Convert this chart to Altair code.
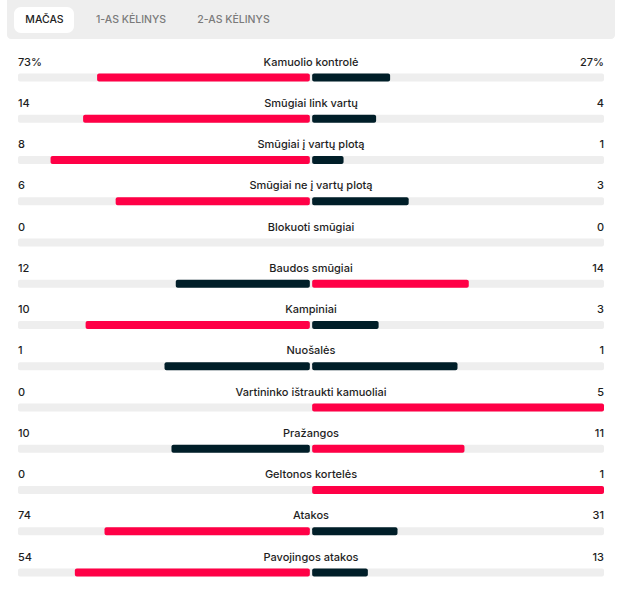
import altair as alt
import pandas as pd

labels = ["Kamuolio kontrolė", "Smūgiai link vartų", "Smūgiai į vartų plotą",
          "Smūgiai ne į vartų plotą", "Blokuoti smūgiai", "Baudos smūgiai",
          "Kampiniai", "Nuošalės", "Vartininko ištraukti kamuoliai",
          "Pražangos", "Geltonos kortelės", "Atakos", "Pavojingos atakos"]
home = [73, 14, 8, 6, 0, 12, 10, 1, 0, 10, 0, 74, 54]
away = [27, 4, 1, 3, 0, 14, 3, 1, 5, 11, 1, 31, 13]
is_pct = [True] + [False] * 12
tabs = ["MAČAS", "1-AS KĖLINYS", "2-AS KĖLINYS"]

RED = "#ff0046"
DARK = "#001e28"
TRACK = "#eeeeee"
GAP = 0.004

rows = []
for i, (lab, h, a, p) in enumerate(zip(labels, home, away, is_pct)):
    tot = h + a
    sh = h / tot if tot else 0.0
    sa = a / tot if tot else 0.0
    rows.append(dict(
        row=i, label=lab,
        home_txt=f"{h}%" if p else str(h),
        away_txt=f"{a}%" if p else str(a),
        hx1=-sh, hx2=-GAP if sh > 0 else 0.0,
        ax1=GAP if sa > 0 else 0.0, ax2=sa,
        hcol=RED if h > a else DARK,
        acol=RED if a > h else DARK,
        has_h=sh > 0, has_a=sa > 0,
        bar_top=i + 0.267, bar_bot=i + 0.461,
    ))
df = pd.DataFrame(rows)

W, H = 627, 590
xscale = alt.Scale(domain=[-311 / 293, (627 - 311) / 293], nice=False, zero=False)
yscale = alt.Scale(domain=[-62.5 / 41.25, (590 - 62.5) / 41.25], nice=False, zero=False, reverse=True)

base = alt.Chart(df)

track = base.mark_rect(color=TRACK, cornerRadius=2).encode(
    x=alt.X("lo:Q", scale=xscale, axis=None),
    x2="hi:Q",
    y=alt.Y("bar_top:Q", scale=yscale, axis=None),
    y2="bar_bot:Q",
).transform_calculate(lo="-1", hi="1")

hbar = base.transform_filter("datum.has_h").mark_rect(cornerRadius=2).encode(
    x=alt.X("hx1:Q", scale=xscale, axis=None),
    x2="hx2:Q",
    y=alt.Y("bar_top:Q", scale=yscale, axis=None),
    y2="bar_bot:Q",
    color=alt.Color("hcol:N", scale=None, legend=None),
)
abar = base.transform_filter("datum.has_a").mark_rect(cornerRadius=2).encode(
    x=alt.X("ax1:Q", scale=xscale, axis=None),
    x2="ax2:Q",
    y=alt.Y("bar_top:Q", scale=yscale, axis=None),
    y2="bar_bot:Q",
    color=alt.Color("acol:N", scale=None, legend=None),
)

FONT = "Inter"
txt_kw = dict(font=FONT, fontSize=11, fontWeight=500, color="#1e1e1e", baseline="middle")

lab = base.mark_text(align="center", **txt_kw).encode(
    x=alt.X("c:Q", scale=xscale, axis=None),
    y=alt.Y("row:Q", scale=yscale, axis=None),
    text="label:N",
).transform_calculate(c="0")
ltxt = base.mark_text(align="left", **txt_kw).encode(
    x=alt.X("c:Q", scale=xscale, axis=None),
    y=alt.Y("row:Q", scale=yscale, axis=None),
    text="home_txt:N",
).transform_calculate(c="-1")
rtxt = base.mark_text(align="right", **txt_kw).encode(
    x=alt.X("c:Q", scale=xscale, axis=None),
    y=alt.Y("row:Q", scale=yscale, axis=None),
    text="away_txt:N",
).transform_calculate(c="1")

# tab header
tabbg = alt.Chart(pd.DataFrame({"k": [0]})).mark_rect(color="#eeeeee", cornerRadius=4).encode(
    x=alt.value(7), x2=alt.value(615), y=alt.value(-4), y2=alt.value(39))
pill = alt.Chart(pd.DataFrame({"k": [0]})).mark_rect(color="white", cornerRadius=7).encode(
    x=alt.value(14), x2=alt.value(74), y=alt.value(7), y2=alt.value(33))
tabdf = pd.DataFrame({"t": tabs, "px": [44.5, 131, 233.5], "c": ["#222222", "#7a7a7a", "#7a7a7a"]})
tabtxt = alt.Chart(tabdf).mark_text(font=FONT, fontSize=10.5, fontWeight=500, baseline="middle", align="center").encode(
    x=alt.X("px:Q", scale=alt.Scale(domain=[0, W], nice=False), axis=None),
    y=alt.value(20),
    text="t:N",
    color=alt.Color("c:N", scale=None, legend=None),
)

chart = alt.layer(tabbg, pill, tabtxt, track, hbar, abar, lab, ltxt, rtxt).resolve_scale(x="independent").properties(
    width=W, height=H, padding=0, autosize=alt.AutoSizeParams(type="none"), background="white"
).configure_view(stroke=None)

chart.save("out.html", embed_options={"renderer": "svg", "actions": False})
